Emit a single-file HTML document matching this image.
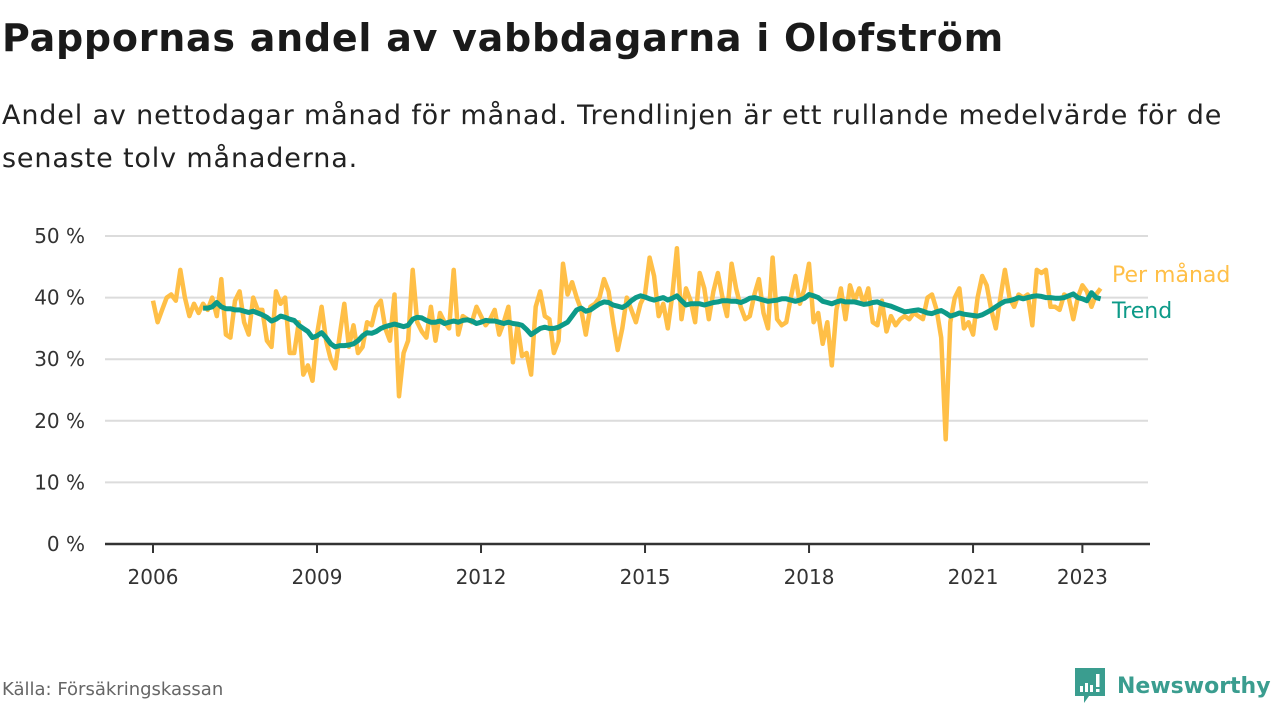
<!DOCTYPE html>
<html><head><meta charset="utf-8">
<style>
body{margin:0;width:1280px;height:720px;background:#fff;overflow:hidden;font-family:"DejaVu Sans","Liberation Sans",sans-serif;color:#1a1a1a;position:relative}
h1{position:absolute;left:2px;top:16px;margin:0;font-size:38px;font-weight:bold;letter-spacing:0.75px;white-space:nowrap}
.sub{position:absolute;left:2px;top:94px;margin:0;font-size:27px;letter-spacing:0.85px;line-height:43px;color:#222;width:1270px;white-space:nowrap}
.src{position:absolute;left:2px;top:679px;font-size:18px;color:#666}
.logo{position:absolute;left:1073px;top:666px;display:flex;align-items:center}
.logo span{font-size:22px;font-weight:bold;color:#3a9d8f;margin-left:10px}
svg{position:absolute;left:0;top:0}
</style></head><body>
<h1>Pappornas andel av vabbdagarna i Olofström</h1>
<p class="sub">Andel av nettodagar månad för månad. Trendlinjen är ett rullande medelvärde för de<br>senaste tolv månaderna.</p>
<svg id="chart" width="1280" height="720"></svg>
<div class="src">Källa: Försäkringskassan</div>
<div class="logo">
<svg width="34" height="40" viewBox="0 0 34 40" style="position:static"><path d="M2 2h30v28H16l-5 7v-7H2z" fill="#3a9d8f"/><rect x="7" y="20" width="3" height="6" fill="#fff"/><rect x="12" y="17" width="3" height="9" fill="#fff"/><rect x="17" y="19" width="3" height="7" fill="#fff"/><rect x="23" y="8" width="3.5" height="13" fill="#fff"/><rect x="23" y="23" width="3.5" height="3" fill="#fff"/></svg>
<span>Newsworthy</span></div>
<script>
const yTicks=[0,10,20,30,40,50];
const xTickYears=[2006,2009,2012,2015,2018,2021,2023];
const monthlyStart=2006;
const monthly=[
39.5,36,38,40,40.5,39.5,44.5,40,37,39,37.5,39,
38,40,37,43,34,33.5,39.5,41,36,34,40,38,
38,33,32,41,39,40,31,31,36,27.5,29,26.5,
34,38.5,33,30,28.5,34,39,32,35.5,31,32,36,
35.5,38.5,39.5,35,33,40.5,24,31,33,44.5,36,34.5,
33.5,38.5,33,37.5,36,35,44.5,34,37,36.5,36,38.5,
37,35.5,36.5,38,34,36,38.5,29.5,35.5,30.5,31,27.5,
38.5,41,37,36.5,31,33,45.5,40.5,42.5,40,38,34,
38.5,39,40,43,41,36,31.5,35,40,38,36,39,
40.5,46.5,43.5,37,39,35,40.5,48,36.5,41.5,39.5,36,
44,41.5,36.5,41,44,40,37,45.5,41.5,38.5,36.5,37,
40.5,43,37.5,35,46.5,36.5,35.5,36,40,43.5,39,41.5,
45.5,36,37.5,32.5,36,29,38,41.5,36.5,42,39.5,41.5,
39,41.5,36,35.5,39.5,34.5,37,35.5,36.5,37,36.5,37.5,
37,36.5,40,40.5,38,33.5,17,36,40,41.5,35,36,
34,40,43.5,42,38,35,40,44.5,40,38.5,40.5,40,
40.5,35.5,44.5,44,44.5,38.5,38.5,38,40.5,40,36.5,40,
42,41,38.5,40.5,41.5];
const trendStartIndex=11;
const trend=[38.3,
38.3,38.5,39.2,38.5,38.2,38.2,38,38,37.8,37.6,37.8,37.5,
37.2,36.8,36.2,36.5,37,36.8,36.5,36.3,35.5,35,34.5,33.5,
33.8,34.3,33.5,32.5,32,32.2,32.2,32.3,32.5,33,33.8,34.3,
34.2,34.5,35,35.3,35.5,35.7,35.5,35.3,35.5,36.5,36.8,36.7,
36.3,36,36,36.2,35.8,36,36.2,36,36.3,36.4,36.2,35.8,
36,36.3,36.2,36.2,36,35.8,36,35.8,35.7,35.5,34.8,34,
34.5,35,35.2,35,35,35.2,35.6,36,37,38,38.3,37.8,
38,38.5,39,39.3,39.2,38.8,38.6,38.4,38.8,39.5,40,40.3,
40.1,39.8,39.6,39.8,40,39.6,39.9,40.3,39.5,38.8,39,39,
39,38.8,39,39.2,39.3,39.5,39.5,39.4,39.4,39.2,39.5,39.9,
40,39.8,39.6,39.4,39.5,39.6,39.8,39.8,39.6,39.4,39.6,39.9,
40.5,40.3,40,39.4,39.2,39,39.3,39.5,39.3,39.3,39.3,39.1,
38.9,39,39.2,39.3,39,38.8,38.6,38.3,38,37.7,37.8,37.9,
38,37.8,37.5,37.4,37.7,37.9,37.5,37,37.2,37.5,37.3,37.2,
37.1,37,37.2,37.6,38,38.5,39,39.4,39.5,39.7,40,39.8,
40,40.2,40.3,40.2,40,40,39.9,39.9,40,40.3,40.6,40,
39.8,39.5,40.8,40,39.8];
const NS='http://www.w3.org/2000/svg';
const svg=document.getElementById('chart');
const FONT='DejaVu Sans, Liberation Sans, sans-serif';
const x=t=>153+(t-2006)*54.67;
const y=v=>544-v*6.16;
function mk(tag,attrs){const e=document.createElementNS(NS,tag);for(const k in attrs)e.setAttribute(k,attrs[k]);svg.appendChild(e);return e;}
yTicks.forEach(v=>{
  if(v>0){const g=mk('line',{x1:105,x2:1148,y1:y(v),y2:y(v),stroke:'#dcdcdc','stroke-width':2});
  
  }
  const t=mk('text',{x:85,y:y(v)+7,'text-anchor':'end','font-size':20,fill:'#333','font-family':FONT});
  t.textContent=v+' %';
  
  
});
const ax=mk('line',{x1:105,x2:1150,y1:544,y2:544,stroke:'#333','stroke-width':2.5});


xTickYears.forEach(yr=>{
  const tk=mk('line',{x1:x(yr),x2:x(yr),y1:544,y2:553,stroke:'#333','stroke-width':2});
  
  
  const t=mk('text',{x:x(yr),y:584,'text-anchor':'middle','font-size':20,fill:'#333','font-family':FONT});
  t.textContent=yr;
  
  
});
const mp=monthly.map((v,i)=>x(monthlyStart+i/12).toFixed(1)+','+y(v).toFixed(1)).join(' ');
const l1=mk('polyline',{points:mp,fill:'none',stroke:'#ffbf47','stroke-width':4.5,'stroke-linejoin':'round'});


const tp=trend.map((v,i)=>x(monthlyStart+(i+trendStartIndex)/12).toFixed(1)+','+y(v).toFixed(1)).join(' ');
const l2=mk('polyline',{points:tp,fill:'none',stroke:'#0d9a88','stroke-width':5,'stroke-linejoin':'round'});


const a=mk('text',{x:1112,y:282,'font-size':22,fill:'#ffbf47','font-family':FONT});
a.textContent='Per månad';


const b=mk('text',{x:1112,y:318,'font-size':22,fill:'#0d9a88','font-family':FONT});
b.textContent='Trend';


</script>
</body></html>
